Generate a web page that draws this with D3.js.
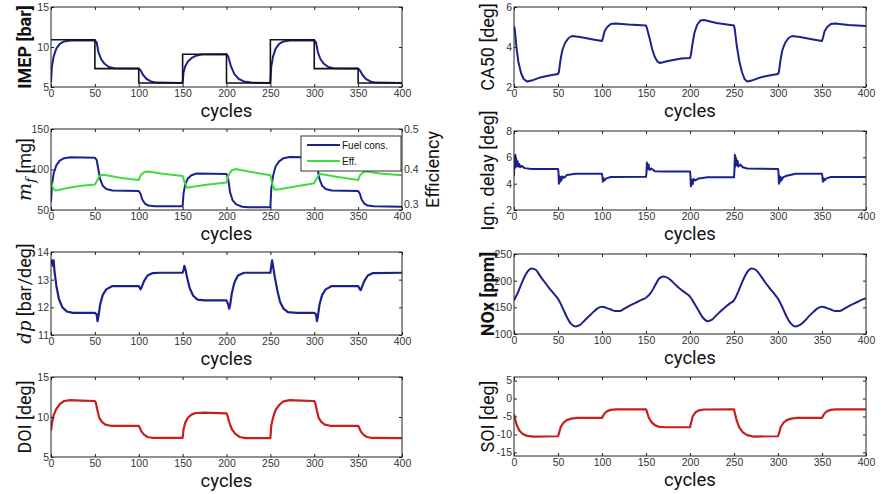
<!DOCTYPE html>
<html>
<head>
<meta charset="utf-8">
<script src="https://cdn.jsdelivr.net/npm/d3@7"></script>
<style>
body { margin: 0; background: #fff; }
svg { display: block; font-family: "Liberation Sans", Arial, sans-serif; }
.tick text { fill: #333; font-size: 10.5px; }
.tick line { stroke: #222; }
.axis-title { font-family: Roboto, "Open Sans", sans-serif; font-size: 18px; fill: #111; }
.math { font-family: "DejaVu Serif", "Liberation Serif", serif; font-style: italic; }
.legend-text { font-family: "Liberation Sans", Arial, sans-serif; font-size: 10px; fill: #111; }
</style>
</head>
<body>
<svg id="chart" width="881" height="494"></svg>
<script>
// ---- Data ----
const cycleTicks = [0, 50, 100, 150, 200, 250, 300, 350, 400];

// IMEP reference (step levels, one per 50-cycle block) and measured response
const imepRefCycles = [0, 50, 100, 150, 200, 250, 300, 350, 400];
const imepRefValues = [10.9, 7.3, 5.5, 9.1, 5.5, 10.9, 7.3, 5.5, 5.5];
const imepMeasured = [[0,5.6],[1,7.5],[3,8.8],[6,9.8],[10,10.4],[15,10.7],[22,10.8],[50,10.8],[52,10.6],[54,9.4],[57,8.5],[61,7.9],[66,7.5],[72,7.35],[100,7.3],[102,7.1],[105,6.5],[109,6.0],[114,5.7],[120,5.55],[150,5.5],[151,6.8],[153,7.6],[156,8.2],[160,8.6],[165,8.9],[172,9.05],[200,9.1],[202,8.8],[205,7.6],[209,6.6],[214,6.0],[220,5.7],[228,5.55],[250,5.5],[251,7.5],[253,8.8],[256,9.8],[260,10.4],[265,10.7],[272,10.8],[300,10.8],[302,10.6],[304,9.4],[307,8.5],[311,7.9],[316,7.5],[322,7.35],[350,7.3],[352,7.1],[355,6.5],[359,6.0],[364,5.7],[370,5.55],[400,5.5]];

const ca50 = [[0,5.05],[1,4.85],[3,3.9],[5,3.25],[8,2.7],[11,2.4],[15,2.27],[20,2.32],[30,2.48],[40,2.58],[50,2.65],[51,2.75],[53,3.4],[55,3.85],[58,4.2],[62,4.45],[66,4.55],[75,4.5],[90,4.38],[100,4.3],[101,4.45],[103,4.8],[106,5.0],[110,5.15],[115,5.18],[130,5.12],[150,5.07],[151,4.95],[154,4.45],[157,3.9],[160,3.5],[163,3.27],[166,3.2],[175,3.3],[190,3.42],[200,3.45],[201,3.6],[203,4.2],[205,4.7],[208,5.1],[212,5.33],[216,5.35],[230,5.2],[250,5.07],[251,4.85],[253,4.1],[256,3.3],[259,2.75],[262,2.4],[265,2.27],[270,2.32],[280,2.48],[290,2.58],[300,2.65],[301,2.75],[303,3.4],[305,3.85],[308,4.2],[312,4.45],[316,4.55],[325,4.5],[340,4.38],[350,4.3],[351,4.45],[353,4.8],[356,5.0],[360,5.15],[365,5.18],[380,5.1],[400,5.05]];

const fuelCons = [[0,60],[1,80],[3,95],[6,105],[10,111],[15,114],[22,115],[50,114.5],[52,112],[54,100],[56,88],[59,80],[63,76],[70,74],[100,73.5],[102,70],[104,63],[107,58],[111,55.5],[118,54.5],[150,54.5],[151,70],[153,82],[156,89],[160,93],[166,95],[200,94.5],[202,88],[204,72],[207,62],[211,57],[218,54],[225,53.5],[250,53.5],[251,75],[253,92],[256,104],[260,110],[265,114],[272,115.5],[300,115],[302,112],[304,100],[306,88],[309,80],[313,76],[320,74],[350,73.5],[352,70],[354,63],[357,58],[361,55.5],[368,54.5],[400,54]];

const efficiency = [[0,0.37],[2,0.355],[5,0.348],[10,0.35],[20,0.355],[35,0.36],[50,0.363],[52,0.37],[55,0.383],[58,0.387],[65,0.385],[80,0.379],[100,0.374],[102,0.385],[106,0.393],[110,0.395],[125,0.39],[150,0.384],[152,0.37],[155,0.355],[160,0.357],[175,0.362],[200,0.368],[202,0.385],[206,0.398],[210,0.401],[225,0.395],[250,0.386],[252,0.365],[255,0.35],[260,0.351],[275,0.357],[300,0.366],[302,0.375],[305,0.386],[308,0.389],[325,0.382],[350,0.374],[352,0.385],[356,0.393],[360,0.395],[375,0.39],[400,0.386]];

const ignDelay = [[0,4.6],[0.5,6.1],[1,5.2],[1.5,6.2],[2,5.4],[2.5,5.9],[3,5.3],[4,5.7],[5,5.3],[6,5.5],[7,5.25],[9,5.35],[12,5.18],[20,5.12],[50,5.12],[50.5,4.9],[51,4.0],[51.5,4.6],[52,4.1],[53,4.5],[54,4.25],[55,4.55],[57,4.45],[60,4.65],[70,4.75],[100,4.75],[100.5,4.5],[101,4.15],[102,4.4],[103,4.25],[105,4.4],[110,4.5],[150,4.52],[150.5,4.8],[151,5.6],[152,5.1],[153,5.45],[154,5.05],[156,5.15],[160,4.95],[170,4.93],[200,4.93],[200.5,4.6],[201,3.8],[202,4.3],[203,3.95],[204,4.35],[206,4.25],[210,4.4],[220,4.48],[250,4.48],[250.5,5.0],[251,6.2],[251.5,5.3],[252,6.0],[253,5.4],[254,5.75],[255,5.3],[257,5.45],[260,5.25],[265,5.15],[300,5.12],[300.5,4.9],[301,4.0],[301.5,4.6],[302,4.1],[303,4.5],[304,4.25],[306,4.5],[310,4.6],[320,4.75],[350,4.75],[350.5,4.5],[351,4.15],[352,4.4],[353,4.25],[355,4.4],[360,4.5],[400,4.5]];

const dpMax = [[0,13.55],[1,13.7],[2,13.5],[3,13.7],[4,13.3],[6,12.8],[9,12.3],[13,12.0],[18,11.85],[25,11.8],[50,11.8],[52,11.75],[53,11.5],[54,11.65],[56,12.1],[59,12.45],[63,12.65],[70,12.77],[100,12.77],[102,12.65],[103,12.7],[106,12.95],[110,13.15],[116,13.24],[125,13.25],[150,13.25],[151,13.35],[152,13.5],[153,13.4],[155,13.1],[158,12.7],[162,12.42],[167,12.28],[175,12.25],[200,12.25],[202,12.1],[203,11.95],[204,12.05],[206,12.5],[209,12.9],[213,13.15],[220,13.25],[250,13.25],[251,13.5],[252,13.7],[253,13.5],[255,13.1],[258,12.6],[261,12.2],[265,11.95],[270,11.83],[280,11.8],[300,11.8],[302,11.75],[303,11.5],[304,11.65],[306,12.1],[309,12.45],[313,12.65],[320,12.77],[350,12.77],[352,12.65],[353,12.62],[354,12.7],[357,12.95],[361,13.15],[367,13.24],[400,13.25]];

const nox = [[0,163],[5,180],[10,200],[15,216],[20,223],[25,220],[30,208],[35,197],[40,186],[45,176],[50,166],[55,150],[60,132],[65,119],[70,114],[75,117],[80,125],[85,133],[90,141],[95,148],[100,151],[105,149],[110,146],[115,143],[120,143],[125,147],[130,152],[135,156],[140,160],[145,164],[150,168],[155,176],[160,190],[165,204],[170,208],[175,205],[180,198],[185,190],[190,183],[195,177],[200,170],[205,157],[210,143],[215,130],[220,124],[225,127],[230,135],[235,143],[240,150],[245,157],[250,163],[255,180],[260,200],[265,216],[270,223],[275,220],[280,210],[285,198],[290,187],[295,177],[300,166],[305,150],[310,132],[315,119],[320,114],[325,117],[330,124],[335,133],[340,141],[345,148],[350,151],[355,149],[360,146],[365,143],[370,143],[375,147],[380,152],[385,156],[390,160],[395,164],[400,167]];

const doi = [[0,8.3],[1,9.2],[3,10.2],[6,11.0],[10,11.6],[15,12.0],[22,12.1],[35,12.05],[50,12.0],[51,11.8],[53,10.8],[55,9.9],[58,9.4],[62,9.05],[68,8.9],[100,8.9],[101,8.7],[103,8.2],[106,7.8],[110,7.5],[116,7.38],[150,7.38],[151,8.4],[153,9.3],[156,9.9],[160,10.3],[165,10.5],[175,10.55],[200,10.45],[201,10.2],[203,9.4],[206,8.5],[210,7.9],[215,7.5],[222,7.35],[250,7.35],[251,8.9],[253,9.9],[256,10.9],[260,11.5],[265,11.95],[272,12.1],[285,12.05],[300,12.0],[301,11.8],[303,10.8],[305,9.9],[308,9.4],[312,9.05],[318,8.9],[350,8.9],[351,8.7],[353,8.2],[356,7.8],[360,7.5],[366,7.38],[400,7.35]];

const soi = [[0,-4.3],[1,-5.5],[3,-7.3],[6,-8.9],[10,-9.9],[15,-10.4],[22,-10.6],[50,-10.5],[51,-9.8],[53,-8.0],[56,-6.8],[60,-6.0],[65,-5.6],[72,-5.4],[100,-5.4],[101,-4.9],[103,-4.1],[106,-3.5],[110,-3.15],[116,-3.0],[150,-3.0],[151,-3.6],[153,-5.2],[156,-6.5],[160,-7.4],[165,-7.9],[172,-8.0],[200,-8.0],[201,-7.0],[203,-5.0],[206,-3.9],[210,-3.3],[216,-3.05],[250,-3.0],[251,-4.1],[253,-6.1],[256,-8.0],[260,-9.4],[265,-10.2],[272,-10.6],[300,-10.5],[301,-9.8],[303,-8.0],[306,-6.8],[310,-6.0],[315,-5.6],[322,-5.4],[350,-5.4],[351,-4.9],[353,-4.1],[356,-3.5],[360,-3.15],[366,-3.0],[400,-3.0]];

// ---- Layout ----
const BLUE = "#1b2290", GREEN = "#3fdc3f", RED = "#c81e1e", BLACK = "#111";
const colX = [[51, 402], [514, 866]];
const plainNum = d => String(d);   // MATLAB style: "-5", not "−5"

const panels = [
  { col: 0, top: 7,   bottom: 87,  yDomain: [5, 15],    yTicks: [5, 10, 15],         label: "IMEP [bar]", bold: true,
    series: [{ data: imepMeasured, color: BLUE, width: 2 }],
    steps: { cycles: imepRefCycles, values: imepRefValues, color: BLACK, width: 1.6 } },
  { col: 1, top: 7,   bottom: 87,  yDomain: [2, 6],     yTicks: [2, 4, 6],           label: "CA50 [deg]",
    series: [{ data: ca50, color: BLUE, width: 2 }] },
  { col: 0, top: 129, bottom: 210, yDomain: [50, 150],  yTicks: [50, 100, 150],      label: "mf",
    series: [{ data: fuelCons, color: BLUE, width: 2 }],
    right: { domain: [0.3, 0.5], ticks: [0.3, 0.4, 0.5], data: efficiency, color: GREEN, label: "Efficiency" } },
  { col: 1, top: 131, bottom: 210, yDomain: [2, 8],     yTicks: [2, 4, 6, 8],        label: "Ign. delay [deg]",
    series: [{ data: ignDelay, color: BLUE, width: 2 }] },
  { col: 0, top: 252, bottom: 335, yDomain: [11, 14],   yTicks: [11, 12, 13, 14],    label: "dp",
    series: [{ data: dpMax, color: BLUE, width: 2.2 }] },
  { col: 1, top: 254, bottom: 334, yDomain: [100, 250], yTicks: [100, 150, 200, 250], label: "NOx [ppm]", bold: true, smooth: true,
    series: [{ data: nox, color: BLUE, width: 2 }] },
  { col: 0, top: 377, bottom: 457, yDomain: [5, 15],    yTicks: [5, 10, 15],         label: "DOI [deg]",
    series: [{ data: doi, color: RED, width: 2.2 }] },
  { col: 1, top: 377, bottom: 456, yDomain: [-16, 6],   yTicks: [-15, -10, -5, 0, 5], label: "SOI [deg]",
    series: [{ data: soi, color: RED, width: 2.2 }] }
];

const svg = d3.select("#chart");

panels.forEach((p, i) => {
  const x = d3.scaleLinear().domain([0, 400]).range(colX[p.col]);
  const y = d3.scaleLinear().domain(p.yDomain).range([p.bottom, p.top]);
  const [x0, x1] = colX[p.col];
  const g = svg.append("g");

  // clip lines to the axes box
  const clipId = "clip" + i;
  svg.append("clipPath").attr("id", clipId)
    .append("rect").attr("x", x0).attr("y", p.top).attr("width", x1 - x0).attr("height", p.bottom - p.top);

  const plot = g.append("g").attr("clip-path", `url(#${clipId})`);
  const line = d3.line().x(d => x(d[0])).y(d => y(d[1]))
    .curve(p.smooth ? d3.curveMonotoneX : d3.curveLinear);

  p.series.forEach(s => {
    plot.append("path").datum(s.data)
      .attr("fill", "none").attr("stroke", s.color).attr("stroke-width", s.width)
      .attr("stroke-linejoin", "round").attr("d", line);
  });

  if (p.steps) {
    const stepLine = d3.line().x(d => x(d[0])).y(d => y(d[1])).curve(d3.curveStepAfter);
    const pts = p.steps.cycles.map((c, k) => [c, p.steps.values[k]]);
    plot.append("path").datum(pts)
      .attr("fill", "none").attr("stroke", p.steps.color).attr("stroke-width", p.steps.width)
      .attr("d", stepLine);
  }

  let yR = null;
  if (p.right) {
    yR = d3.scaleLinear().domain(p.right.domain).range([p.bottom, p.top]);
    const lineR = d3.line().x(d => x(d[0])).y(d => yR(d[1]));
    plot.append("path").datum(p.right.data)
      .attr("fill", "none").attr("stroke", p.right.color).attr("stroke-width", 2)
      .attr("stroke-linejoin", "round").attr("d", lineR);
  }

  // axes (MATLAB style: inward ticks on all four sides)
  const clean = sel => sel.select(".domain").remove();
  g.append("g").attr("transform", `translate(0,${p.bottom})`)
    .call(d3.axisBottom(x).tickValues(cycleTicks).tickSizeInner(-3).tickSizeOuter(0).tickPadding(3).tickFormat(plainNum))
    .call(clean);
  g.append("g").attr("transform", `translate(0,${p.top})`)
    .call(d3.axisTop(x).tickValues(cycleTicks).tickSizeInner(-3).tickSizeOuter(0).tickFormat(""))
    .call(clean);
  g.append("g").attr("transform", `translate(${x0},0)`)
    .call(d3.axisLeft(y).tickValues(p.yTicks).tickSizeInner(-3).tickSizeOuter(0).tickPadding(2).tickFormat(plainNum))
    .call(clean);
  if (yR) {
    const ra = g.append("g").attr("transform", `translate(${x1},0)`)
      .call(d3.axisRight(yR).tickValues(p.right.ticks).tickSizeInner(-3).tickSizeOuter(0).tickPadding(2).tickFormat(d3.format(".1f")))
      .call(clean);
    // lowest label sits just above the "400" cycle label, as in the original
    ra.selectAll(".tick text").filter(d => d === p.right.domain[0]).attr("dy", "-0.25em");
  } else {
    g.append("g").attr("transform", `translate(${x1},0)`)
      .call(d3.axisRight(y).tickValues(p.yTicks).tickSizeInner(-3).tickSizeOuter(0).tickFormat(""))
      .call(clean);
  }

  g.append("rect").attr("x", x0).attr("y", p.top).attr("width", x1 - x0).attr("height", p.bottom - p.top)
    .attr("fill", "none").attr("stroke", "#222").attr("stroke-width", 1);

  // x title
  g.append("text").attr("class", "axis-title")
    .attr("x", (x0 + x1) / 2).attr("y", p.bottom + 30).attr("text-anchor", "middle")
    .style("font-size", "18.5px")
    .text("cycles");

  // y title
  const cy = (p.top + p.bottom) / 2;
  const yt = g.append("text").attr("class", "axis-title")
    .attr("transform", `translate(${x0 - 26},${cy}) rotate(-90)`)
    .attr("text-anchor", "middle").attr("dy", "0.35em")
    .style("font-weight", p.bold ? "bold" : null);
  if (p.label === "mf") {
    yt.append("tspan").attr("class", "math").attr("font-size", "19px").text("m");
    yt.append("tspan").attr("class", "math").attr("font-size", "13px").attr("dy", "4").text("f");
    yt.append("tspan").attr("dy", "-4").text(" [mg]");
  } else if (p.label === "dp") {
    yt.append("tspan").attr("class", "math").attr("font-size", "18px").text("dp");
    yt.append("tspan").text(" [bar/deg]");
  } else {
    yt.text(p.label);
  }

  if (p.right) {
    g.append("text").attr("class", "axis-title")
      .attr("transform", `translate(${x1 + 31},${cy}) rotate(-90)`)
      .attr("text-anchor", "middle").attr("dy", "0.35em")
      .text(p.right.label);

    // legend
    const lx = x1 - 101, ly = p.top + 7;
    const lg = g.append("g");
    lg.append("rect").attr("x", lx).attr("y", ly).attr("width", 100).attr("height", 35)
      .attr("fill", "#fff").attr("stroke", "#333");
    const entries = [{ name: "Fuel cons.", color: BLUE }, { name: "Eff.", color: GREEN }];
    entries.forEach((e, k) => {
      const ey = ly + 9 + k * 16;
      lg.append("line").attr("x1", lx + 6).attr("x2", lx + 39).attr("y1", ey).attr("y2", ey)
        .attr("stroke", e.color).attr("stroke-width", 2);
      lg.append("text").attr("class", "legend-text").attr("x", lx + 41).attr("y", ey).attr("dy", "0.35em")
        .text(e.name);
    });
  }
});
</script>
</body>
</html>
